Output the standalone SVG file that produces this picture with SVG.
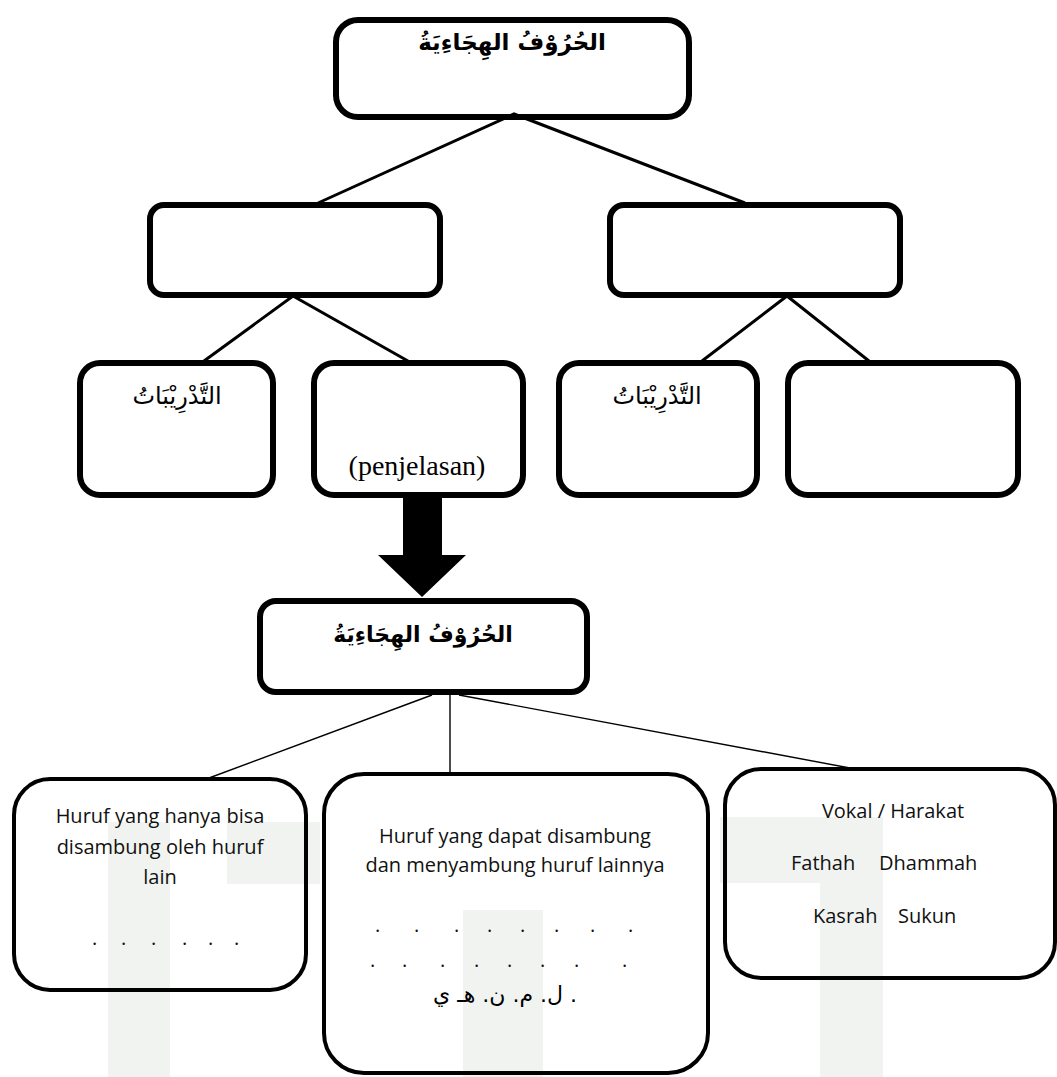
<svg xmlns="http://www.w3.org/2000/svg" width="1057" height="1077" viewBox="0 0 1057 1077">
  <style>
    .box { fill: none; stroke: #000000; stroke-width: 6; }
    .box-thin { fill: none; stroke: #000000; stroke-width: 4; }
    .link { fill: none; stroke: #000000; stroke-width: 3; }
    .link-thin { fill: none; stroke: #000000; stroke-width: 1.4; }
    .ar-bold { font-family: "DejaVu Sans", sans-serif; font-weight: bold; font-size: 22px; fill: #000; }
    .ar { font-family: "DejaVu Sans", sans-serif; font-size: 24px; fill: #000; }
    .ar-small { font-family: "DejaVu Sans", sans-serif; font-size: 22px; fill: #000; }
    .serif { font-family: "Liberation Serif", serif; font-size: 28px; fill: #000; }
    .sans { font-family: "Open Sans", "Noto Sans", sans-serif; font-size: 20px; fill: #111; }
    .emblem { fill: #f0f3f0; }
  </style>

  <rect width="1057" height="1077" fill="#ffffff"/>

  <!-- faint background emblem -->
  <g id="emblem">
    <rect class="emblem" x="108" y="822" width="62" height="255"/>
    <rect class="emblem" x="227" y="822" width="93" height="62"/>
    <rect class="emblem" x="463" y="910" width="80" height="167"/>
    <rect class="emblem" x="720" y="817" width="163" height="66"/>
    <rect class="emblem" x="820" y="883" width="63" height="194"/>
  </g>

  <!-- connectors -->
  <g id="connectors">
    <polyline class="link" points="318,203 514,114 745,203"/>
    <polyline class="link" points="204,361 293,296 408,361"/>
    <polyline class="link" points="702,361 787,296 869,361"/>
    <line class="link-thin" x1="432" y1="695" x2="209" y2="778"/>
    <line class="link-thin" x1="450" y1="695" x2="450" y2="773"/>
    <line class="link-thin" x1="459" y1="695" x2="850" y2="768"/>
    <polygon points="403,496 442,496 442,555 466,555 422,597 378,555 403,555" fill="#000"/>
  </g>

  <!-- top node -->
  <g id="node-root">
    <rect class="box" x="336" y="20" width="353" height="97" rx="22"/>
    <text class="ar-bold" x="512" y="50" text-anchor="middle" direction="rtl" style="font-size:23px">الحُرُوْفُ الهِجَاءِيَةُ</text>
  </g>

  <!-- second level -->
  <g id="node-mid-left">
    <rect class="box" x="150" y="205" width="290" height="90" rx="14"/>
  </g>
  <g id="node-mid-right">
    <rect class="box" x="610" y="205" width="290" height="90" rx="14"/>
  </g>

  <!-- third level -->
  <g id="node-a">
    <rect class="box" x="80" y="363" width="193" height="132" rx="20"/>
    <text class="ar" x="177" y="404" text-anchor="middle" direction="rtl">التَّدْرِيْبَاتُ</text>
  </g>
  <g id="node-b">
    <rect class="box" x="314" y="363" width="209" height="132" rx="20"/>
    <text class="serif" x="417" y="475" text-anchor="middle">(penjelasan)</text>
  </g>
  <g id="node-c">
    <rect class="box" x="559" y="363" width="198" height="132" rx="20"/>
    <text class="ar" x="657" y="404" text-anchor="middle" direction="rtl">التَّدْرِيْبَاتُ</text>
  </g>
  <g id="node-d">
    <rect class="box" x="788" y="363" width="230" height="132" rx="20"/>
  </g>

  <!-- detail node -->
  <g id="node-detail">
    <rect class="box" x="260" y="601" width="327" height="91" rx="16"/>
    <text class="ar-bold" x="423" y="642" text-anchor="middle" direction="rtl">الحُرُوْفُ الهِجَاءِيَةُ</text>
  </g>

  <!-- bottom row -->
  <g id="node-left">
    <rect class="box-thin" x="14" y="779" width="292" height="211" rx="36"/>
    <text class="sans" x="160" y="823" text-anchor="middle">Huruf yang hanya bisa</text>
    <text class="sans" x="160" y="854" text-anchor="middle">disambung oleh huruf</text>
    <text class="sans" x="160" y="884" text-anchor="middle">lain</text>
    <text class="sans" x="92 121 151 182 208 234" y="945">......</text>
  </g>
  <g id="node-middle">
    <rect class="box-thin" x="324" y="774" width="384" height="299" rx="40"/>
    <text class="sans" x="515" y="843" text-anchor="middle">Huruf yang dapat disambung</text>
    <text class="sans" x="515" y="872" text-anchor="middle">dan menyambung huruf lainnya</text>
    <text class="sans" x="375 414 454 487 520 554 590 628" y="932">........</text>
    <text class="sans" x="370 402 440 474 507 540 574 622" y="967">........</text>
    <text class="ar-small" x="505" y="1002" text-anchor="middle" direction="rtl">. ل. م. ن. هـ ي</text>
  </g>
  <g id="node-right">
    <rect class="box-thin" x="725" y="769" width="330" height="209" rx="36"/>
    <text class="sans" x="893" y="818" text-anchor="middle">Vokal / Harakat</text>
    <text class="sans" x="791" y="870">Fathah</text>
    <text class="sans" x="879" y="870">Dhammah</text>
    <text class="sans" x="813" y="923">Kasrah</text>
    <text class="sans" x="898" y="923">Sukun</text>
  </g>
</svg>
